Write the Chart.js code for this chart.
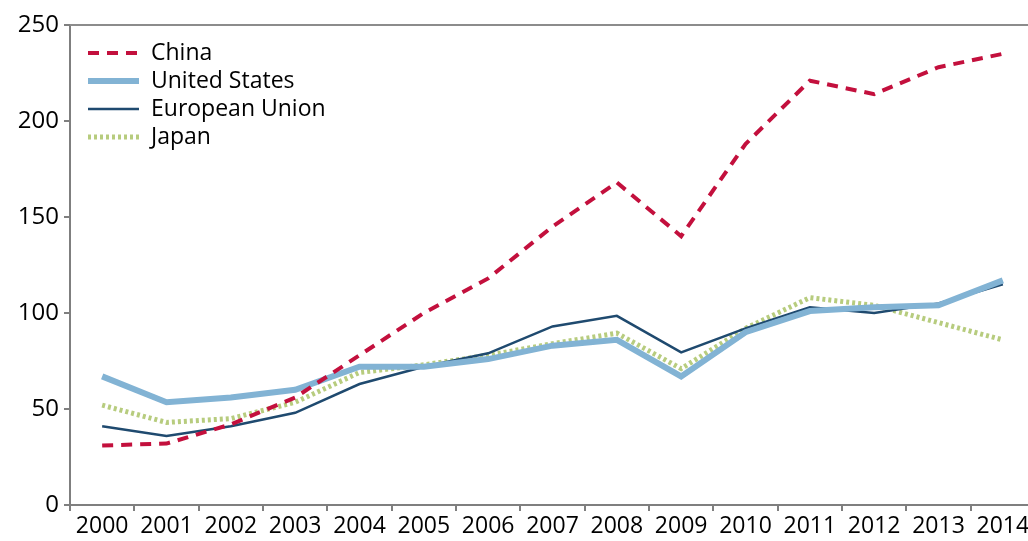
<!DOCTYPE html>
<html>
<head>
<meta charset="utf-8">
<script src="https://cdn.jsdelivr.net/npm/chart.js@4/dist/chart.umd.min.js"></script>
<style>
  html, body { margin: 0; padding: 0; background: #fff; overflow: hidden; }
  #wrap { width: 1040px; height: 541px; }
</style>
</head>
<body>
<div id="wrap"><canvas id="myChart" width="1040" height="541"></canvas></div>
<script>
// data
const years = ['2000','2001','2002','2003','2004','2005','2006','2007','2008','2009','2010','2011','2012','2013','2014'];
const china = [31, 32, 42, 56, 78, 100, 118, 145, 168, 140, 188, 221, 214, 228, 235];
const unitedStates = [67, 53.5, 56, 60, 72, 72, 76, 83, 86, 67, 90, 101, 103, 104, 117];
const europeanUnion = [41, 36, 41, 48, 63, 72, 79, 93, 98.5, 79.5, 92, 103, 100, 105, 115];
const japan = [52, 43, 45, 53.5, 69, 73, 78, 84, 89.5, 71, 92, 108, 104, 95, 86];
const yTicks = [0, 50, 100, 150, 200, 250];

const FONT = '"Open Sans", "DejaVu Sans", sans-serif';
const axisGray = '#7f7f7f';

/* legend inside the plot + top frame line */
const insideLegend = {
    id: 'insideLegend',
    afterDraw(chart) {
        const c = chart.ctx;
        const area = chart.chartArea;
        c.save();
        // top frame
        c.strokeStyle = '#8c8c8c';
        c.lineWidth = 2;
        c.beginPath();
        c.moveTo(area.left, area.top);
        c.lineTo(area.right + 10, area.top);
        c.stroke();

        c.font = '23px ' + FONT;
        c.textBaseline = 'middle';
        c.fillStyle = '#000';
        chart.data.datasets.forEach(function (ds, i) {
            const y = 53 + i * 28;
            c.strokeStyle = ds.borderColor;
            c.lineWidth = ds.borderWidth;
            c.setLineDash(ds.borderDash || []);
            c.beginPath();
            c.moveTo(88, y);
            c.lineTo(139, y);
            c.stroke();
            c.setLineDash([]);
            c.fillText(ds.label, 151, y);
        });
        c.restore();
    }
};

var ctx = document.getElementById('myChart').getContext('2d');
var chart = new Chart(ctx, {
    type: 'line',
    data: {
        labels: years,
        datasets: [
            {
                label: 'China',
                data: china,
                borderColor: '#c3103d',
                borderWidth: 4,
                borderDash: [11, 8]
            },
            {
                label: 'United States',
                data: unitedStates,
                borderColor: '#82b3d4',
                borderWidth: 6
            },
            {
                label: 'European Union',
                data: europeanUnion,
                borderColor: '#1f4a6f',
                borderWidth: 2.5
            },
            {
                label: 'Japan',
                data: japan,
                borderColor: '#b7cc7e',
                borderWidth: 5,
                borderDash: [3, 3]
            }
        ]
    },
    options: {
        responsive: false,
        animation: false,
        layout: { padding: { top: 25, right: 5, left: 0, bottom: 0 } },
        elements: {
            point: { radius: 0 },
            line: { tension: 0, borderCapStyle: 'butt', borderJoinStyle: 'miter' }
        },
        plugins: {
            legend: { display: false },
            tooltip: { enabled: false }
        },
        scales: {
            x: {
                offset: true,
                grid: {
                    offset: true,
                    drawOnChartArea: false,
                    color: axisGray,
                    tickLength: 6,
                    lineWidth: 2
                },
                border: { color: axisGray, width: 2 },
                ticks: {
                    color: '#000',
                    font: { family: FONT, size: 23 },
                    maxRotation: 0,
                    autoSkip: false,
                    padding: 2
                },
                afterFit(scale) { scale.height = 36; }
            },
            y: {
                min: 0,
                max: 250,
                afterBuildTicks(scale) {
                    scale.ticks = yTicks.map(v => ({ value: v }));
                },
                grid: {
                    drawOnChartArea: false,
                    color: axisGray,
                    tickLength: 6,
                    lineWidth: 2
                },
                border: { color: axisGray, width: 2 },
                ticks: {
                    color: '#000',
                    font: { family: FONT, size: 24 },
                    padding: 5
                },
                afterFit(scale) { scale.width = 70; }
            }
        }
    },
    plugins: [insideLegend]
});
</script>
</body>
</html>
